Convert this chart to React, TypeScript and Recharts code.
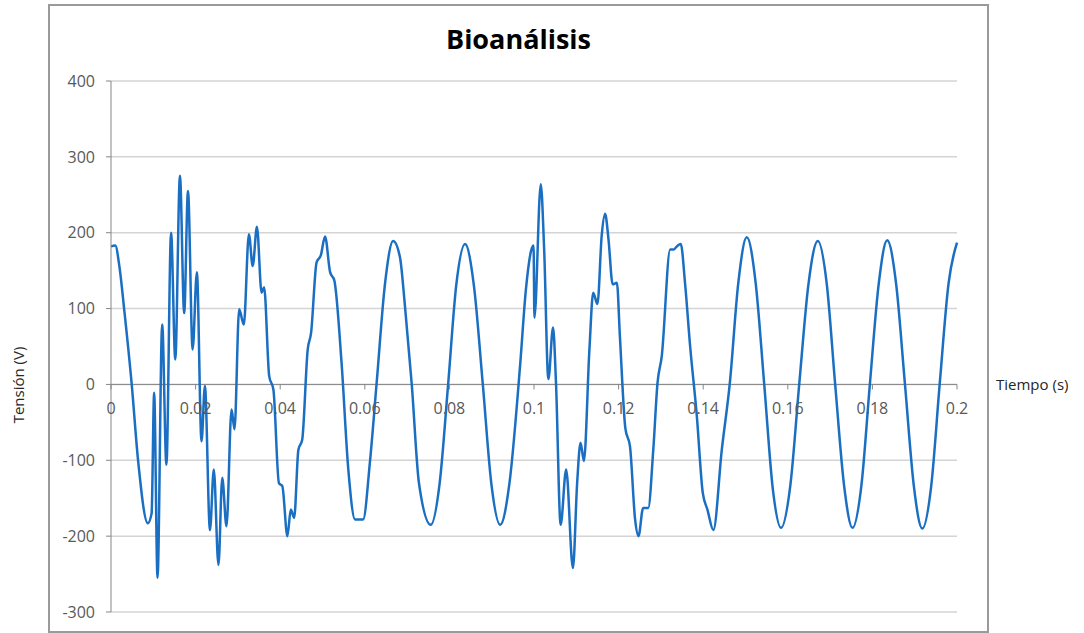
import { LineChart, Line, XAxis, YAxis, CartesianGrid, ReferenceLine } from 'recharts';

// Tiempo (s) and Tensión (V)
const timeS = [
  0, 0.001, 0.002, 0.0031, 0.0049, 0.0064, 0.0087, 0.0096, 0.0102, 0.011, 0.0121,
  0.0131, 0.0142, 0.0152, 0.0163, 0.0173, 0.0182, 0.0193, 0.0203, 0.0214, 0.0222,
  0.0234, 0.0243, 0.0254, 0.0263, 0.0273, 0.0285, 0.0292, 0.0303, 0.0314, 0.0326,
  0.0335, 0.0345, 0.0356, 0.0362, 0.0374, 0.0384, 0.0397, 0.0405, 0.0417, 0.0425,
  0.0433, 0.0443, 0.0452, 0.0465, 0.0473, 0.0486, 0.0496, 0.0506, 0.0518, 0.0528,
  0.0545, 0.0561, 0.0577, 0.0596, 0.0612, 0.0628, 0.0648, 0.0667, 0.0683, 0.0695,
  0.0711, 0.0728, 0.0756, 0.0777, 0.0797, 0.0816, 0.0837, 0.0858, 0.0879, 0.0899,
  0.092, 0.0942, 0.0967, 0.0981, 0.0994, 0.0999, 0.1001, 0.1016, 0.1024, 0.1034,
  0.1045, 0.1052, 0.1063, 0.1076, 0.1092, 0.1102, 0.111, 0.1118, 0.1131, 0.114,
  0.115, 0.116, 0.1168, 0.1176, 0.1186, 0.1196, 0.1203, 0.1216, 0.1227, 0.1239,
  0.1247, 0.1258, 0.127, 0.1282, 0.1292, 0.1302, 0.1322, 0.1331, 0.1336, 0.1347,
  0.1357, 0.1369, 0.1385, 0.1399, 0.141, 0.1424, 0.1444, 0.1463, 0.1483, 0.1503,
  0.1524, 0.1544, 0.1565, 0.1584, 0.1606, 0.1627, 0.1649, 0.1671, 0.1692, 0.1712,
  0.1733, 0.1753, 0.1774, 0.1794, 0.1815, 0.1835, 0.1856, 0.1877, 0.1898, 0.1918,
  0.1939, 0.1959, 0.198, 0.2,
];

const voltageV = [
  182, 183, 155, 100, 0, -100, -183, -170, -11, -255, 79,
  -106, 200, 33, 275, 94, 255, 46, 148, -75, -2,
  -192, -112, -238, -123, -187, -33, -59, 99, 79, 198,
  156, 208, 121, 128, 11, -7, -130, -134, -200, -165,
  -176, -86, -73, 46, 68, 161, 170, 195, 148, 137,
  29, -112, -178, -178, -103, 2, 134, 189, 168, 103,
  0, -130, -185, -130, 0, 130, 185, 130, 0, -130,
  -185, -130, 24, 126, 178, 183, 88, 264, 178, 7,
  75, 2, -185, -112, -242, -130, -77, -101, 46, 121,
  106, 196, 225, 192, 132, 134, 64, -58, -82, -178,
  -200, -163, -163, -86, 2, 37, 178, 178, 181, 185,
  134, 51, -42, -143, -165, -192, -86, 2, 134, 194,
  134, 2, -140, -189, -133, 0, 133, 189, 133, 0,
  -133, -189, -133, 0, 133, 190, 133, 0, -134, -190,
  -134, 0, 133, 187,
];

const xTicks = [0, 0.02, 0.04, 0.06, 0.08, 0.1, 0.12, 0.14, 0.16, 0.18, 0.2];
const xTickLabels = ['0', '0.02', '0.04', '0.06', '0.08', '0.1', '0.12', '0.14', '0.16', '0.18', '0.2'];
const yTicks = [-300, -200, -100, 0, 100, 200, 300, 400];

const data = timeS.map((t, i) => ({ t, v: voltageV[i] }));

const W = 1084;
const H = 633;
const PLOT_TOP = 81;
const PLOT_BOTTOM = 612;
// the time axis crosses at V = 0
const ZERO_Y = PLOT_TOP + (PLOT_BOTTOM - PLOT_TOP) * (400 / 700);
const FONT = '"Open Sans", "DejaVu Sans", sans-serif';

function TimeTick(props: any) {
  const { x, payload } = props;
  const label = xTickLabels[xTicks.indexOf(payload.value)] ?? String(payload.value);
  return (
    <g>
      <line x1={x} x2={x} y1={ZERO_Y} y2={ZERO_Y + 5} stroke="#868686" />
      <text x={x} y={ZERO_Y + 30} textAnchor="middle" fill="#595959" fontSize={16} fontFamily={FONT}>
        {label}
      </text>
    </g>
  );
}

export default function App() {
  return (
    <div
      style={{
        position: 'absolute',
        left: 0,
        top: 0,
        width: W,
        height: H,
        background: '#fff',
        fontFamily: FONT,
        overflow: 'hidden',
      }}
    >
      <div
        style={{
          position: 'absolute',
          left: 48,
          top: 4,
          width: 941,
          height: 629,
          boxSizing: 'border-box',
          border: '2px solid #9a9a9a',
        }}
      />
      <div
        style={{
          position: 'absolute',
          left: 49,
          width: 939,
          top: 20,
          textAlign: 'center',
          fontSize: 27,
          fontWeight: 700,
          color: '#000',
        }}
      >
        Bioanálisis
      </div>
      <LineChart
        width={W}
        height={H}
        data={data}
        margin={{ top: PLOT_TOP, right: W - 957, bottom: H - PLOT_BOTTOM - 20, left: 0 }}
        style={{ position: 'absolute', left: 0, top: 0 }}
      >
        <CartesianGrid vertical={false} stroke="#d4d4d4" strokeWidth={1.5} />
        <XAxis
          type="number"
          dataKey="t"
          domain={[0, 0.2]}
          ticks={xTicks}
          interval={0}
          height={20}
          axisLine={false}
          tickLine={false}
          tick={<TimeTick />}
        />
        <YAxis
          type="number"
          domain={[-300, 400]}
          ticks={yTicks}
          interval={0}
          width={111}
          axisLine={{ stroke: '#868686' }}
          tickLine={{ stroke: '#868686' }}
          tickSize={5}
          tickMargin={11}
          tick={{ fill: '#595959', fontSize: 16, fontFamily: FONT }}
        />
        <ReferenceLine y={0} stroke="#868686" />
        <Line
          type="monotone"
          dataKey="v"
          stroke="#1b6fc2"
          strokeWidth={2.5}
          dot={false}
          activeDot={false}
          isAnimationActive={false}
        />
      </LineChart>
      <div
        style={{
          position: 'absolute',
          left: 18,
          top: 385,
          transform: 'translate(-50%, -50%) rotate(-90deg)',
          whiteSpace: 'nowrap',
          fontSize: 15,
          color: '#262626',
        }}
      >
        Tensión (V)
      </div>
      <div
        style={{
          position: 'absolute',
          left: 996,
          top: 384,
          transform: 'translateY(-50%)',
          whiteSpace: 'nowrap',
          fontSize: 15,
          color: '#262626',
        }}
      >
        Tiempo (s)
      </div>
    </div>
  );
}
